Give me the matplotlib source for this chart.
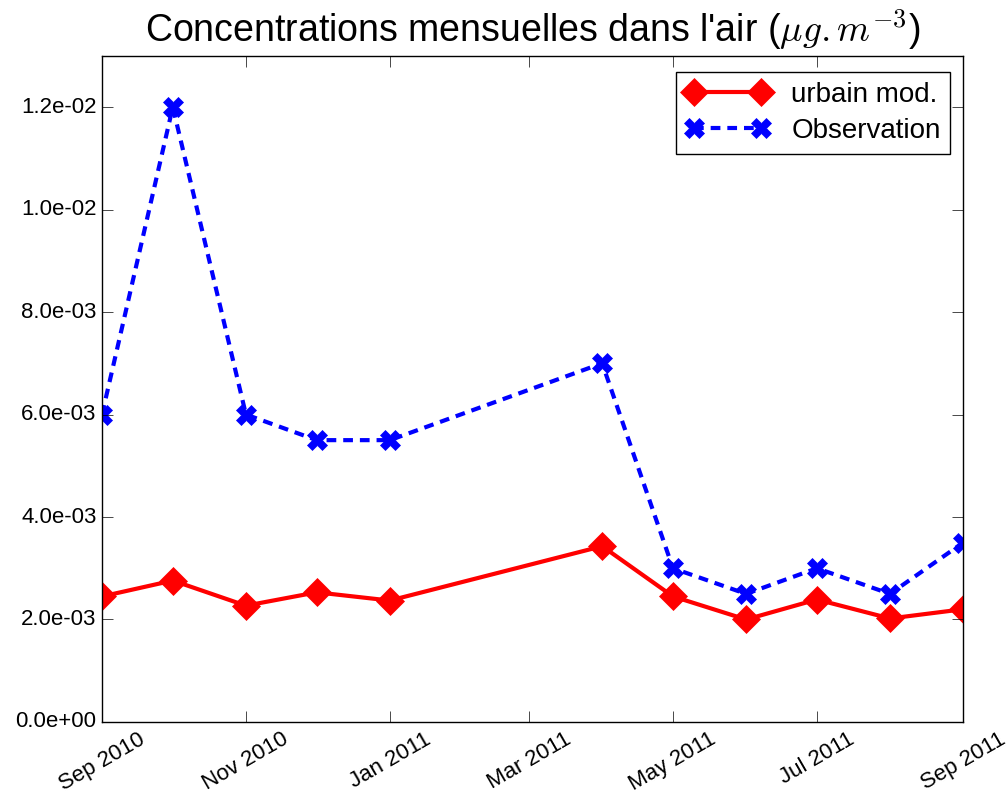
import datetime as dt

import matplotlib
matplotlib.use("Agg")
import matplotlib.pyplot as plt
import matplotlib.dates as mdates
from matplotlib.ticker import FormatStrFormatter, MultipleLocator

plt.style.use("classic")
plt.rcParams["font.family"] = ["Liberation Sans", "DejaVu Sans"]
plt.rcParams["lines.scale_dashes"] = False

# monthly sampling dates
dates = [dt.date(2010, 9, 1), dt.date(2010, 10, 1), dt.date(2010, 11, 1),
         dt.date(2010, 12, 1), dt.date(2011, 1, 1), dt.date(2011, 4, 1),
         dt.date(2011, 5, 1), dt.date(2011, 6, 1), dt.date(2011, 7, 1),
         dt.date(2011, 8, 1), dt.date(2011, 9, 1)]

# model (urban) and observed concentrations
urbain_mod = [2.45e-3, 2.76e-3, 2.27e-3, 2.53e-3, 2.37e-3, 3.43e-3,
              2.45e-3, 2.0e-3, 2.39e-3, 2.02e-3, 2.2e-3]
observation = [6.0e-3, 1.2e-2, 6.0e-3, 5.5e-3, 5.5e-3, 7.0e-3,
               3.0e-3, 2.5e-3, 3.0e-3, 2.5e-3, 3.5e-3]

fig = plt.figure(figsize=(10.06, 7.94), dpi=100, facecolor="white")
ax = fig.add_axes([0.1014, 0.0907, 0.856, 0.839])

ax.plot(dates, urbain_mod, color="red", ls="-", lw=3, marker="D",
        ms=14, mec="red", label="urbain mod.")
ax.plot(dates, observation, color="blue", ls="--", lw=3, marker="X",
        ms=14, mec="blue", label="Observation", dashes=(7, 5))

ax.set_xlim(dt.date(2010, 9, 1), dt.date(2011, 9, 1))
ax.set_ylim(0, 0.013)
ax.yaxis.set_major_locator(MultipleLocator(0.002))
ax.yaxis.set_major_formatter(FormatStrFormatter("%.1e"))
ax.xaxis.set_major_locator(mdates.MonthLocator(bymonth=[1, 3, 5, 7, 9, 11]))
ax.xaxis.set_major_formatter(mdates.DateFormatter("%b %Y"))
ax.tick_params(labelsize=16, length=8)
ax.tick_params(axis="x", pad=5)
for lbl in ax.get_xticklabels():
    lbl.set_rotation(30)
    lbl.set_ha("center")

ax.set_title(r"Concentrations mensuelles dans l'air ($\mu g.m^{-3}$)",
             fontsize=27, y=1.01)
ax.legend(loc="upper right", numpoints=2, fontsize=20, handlelength=3.0,
          borderpad=0.35, labelspacing=0.35, fancybox=False,
          borderaxespad=0, bbox_to_anchor=(0.985, 0.975))

fig.savefig("out.png", dpi=100, facecolor="white")
